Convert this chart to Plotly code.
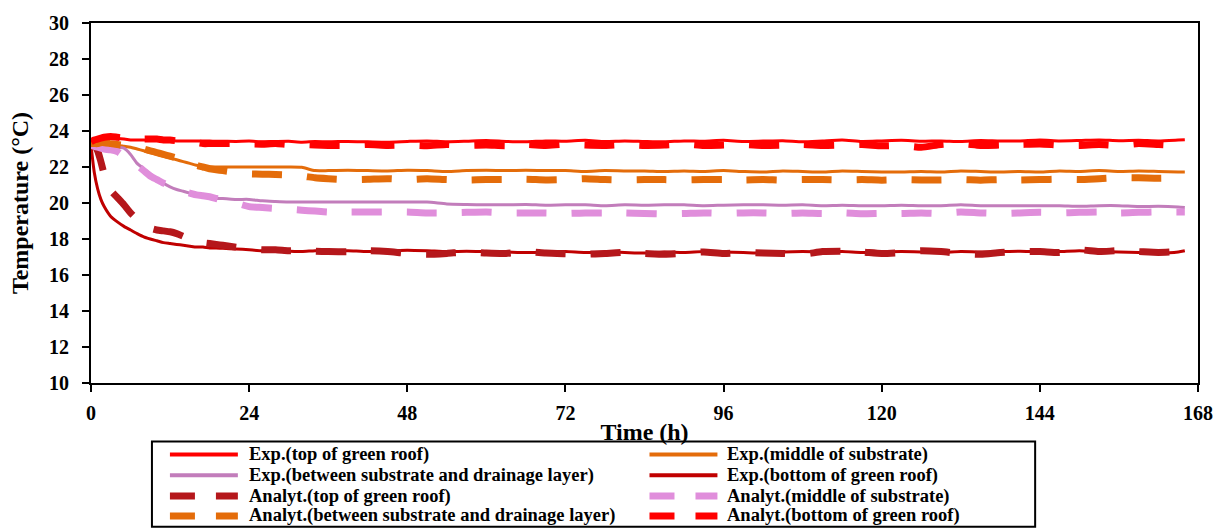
import plotly.graph_objects as go

# Time axis (h)
TIME_H = [0, 0.5, 1, 1.5, 2,
          3, 4, 5, 6, 7, 8, 9, 10, 11, 12, 13, 14, 15, 16, 17, 18, 19, 20,
          22, 24, 26, 28, 30, 32, 34, 36,
          39, 42, 45, 48, 51, 54, 57, 60, 63, 66, 69, 72, 75, 78, 81, 84, 87, 90, 93, 96,
          99, 102, 105, 108, 111, 114, 117, 120, 123, 126, 129, 132, 135, 138, 141, 144,
          147, 150, 153, 156, 159, 162, 165,
          166]

EXP_TOP = [23.35, 23.45, 23.5, 23.55, 23.6,
           23.65, 23.6, 23.55, 23.5, 23.5, 23.5, 23.48, 23.47, 23.47, 23.46, 23.45, 23.45, 23.44, 23.44, 23.45, 23.44, 23.43, 23.43,
           23.42, 23.44, 23.4, 23.42, 23.43, 23.38, 23.42, 23.4,
           23.42, 23.4, 23.38, 23.42, 23.45, 23.4, 23.43, 23.47, 23.42, 23.4, 23.45, 23.43, 23.48, 23.42, 23.45, 23.42, 23.4, 23.45, 23.43, 23.48,
           23.42, 23.44, 23.46, 23.4, 23.45, 23.5, 23.42, 23.45, 23.48, 23.43, 23.45, 23.42, 23.47, 23.44, 23.45, 23.5,
           23.45, 23.47, 23.5, 23.46, 23.48, 23.45, 23.5,
           23.52]

EXP_MIDDLE = [23.2, 23.2, 23.2, 23.2, 23.2,
              23.2, 23.2, 23.15, 23.1, 23.0, 22.9, 22.8, 22.7, 22.6, 22.5, 22.4, 22.3, 22.2, 22.1, 22.05, 22.0, 22.0, 22.0,
              22.0, 22.0, 22.0, 22.0, 22.0, 21.98, 21.8, 21.8,
              21.82, 21.8, 21.78, 21.82, 21.8, 21.75, 21.8, 21.82, 21.8, 21.82, 21.8, 21.8, 21.75, 21.8, 21.78, 21.78, 21.75, 21.78, 21.75, 21.8,
              21.75, 21.72, 21.78, 21.75, 21.72, 21.78, 21.75, 21.72, 21.72, 21.75, 21.72, 21.78, 21.75, 21.72, 21.75, 21.72,
              21.78, 21.75, 21.8, 21.75, 21.78, 21.75, 21.72,
              21.72]

EXP_BETWEEN = [23.1, 23.1, 23.1, 23.1, 23.1,
               23.1, 23.1, 23.05, 22.7, 22.2, 21.9, 21.6, 21.35, 21.1, 20.9, 20.75, 20.65, 20.55, 20.45, 20.35, 20.3, 20.25, 20.25,
               20.2, 20.2, 20.12, 20.08, 20.05, 20.05, 20.05, 20.05,
               20.05, 20.05, 20.05, 20.05, 20.05, 19.95, 19.92, 19.9, 19.9, 19.92, 19.88, 19.9, 19.9, 19.85, 19.9, 19.88, 19.9, 19.9, 19.85, 19.88,
               19.9, 19.9, 19.88, 19.9, 19.85, 19.88, 19.85, 19.85, 19.88, 19.85, 19.85, 19.9, 19.85, 19.85, 19.85, 19.85,
               19.85, 19.82, 19.85, 19.85, 19.8, 19.82, 19.78,
               19.75]

EXP_BOTTOM = [23.2, 21.7, 20.8, 20.2, 19.8,
              19.25, 18.95, 18.7, 18.5, 18.3, 18.12, 18.0, 17.9, 17.8, 17.75, 17.7, 17.65, 17.6, 17.55, 17.55, 17.5, 17.5, 17.48,
              17.45, 17.4, 17.35, 17.35, 17.32, 17.3, 17.35, 17.35,
              17.35, 17.3, 17.35, 17.38, 17.35, 17.3, 17.32, 17.3, 17.28, 17.25, 17.28, 17.3, 17.25, 17.28, 17.25, 17.22, 17.28, 17.25, 17.3, 17.28,
              17.25, 17.22, 17.28, 17.3, 17.28, 17.3, 17.25, 17.28, 17.3, 17.28, 17.25, 17.3, 17.28, 17.3, 17.32, 17.28,
              17.3, 17.35, 17.3, 17.28, 17.25, 17.22, 17.28,
              17.35]

ANALYT_TOP = [23.2, 23.2, 22.9, 22.3, 21.6,
              20.7, 20.3, 19.9, 19.45, 19.1, 18.8, 18.6, 18.5, 18.45, 18.4, 18.3, 18.15, 18.0, 17.9, 17.8, 17.75, 17.7, 17.65,
              17.55, 17.45, 17.4, 17.4, 17.35, 17.35, 17.32, 17.3,
              17.3, 17.35, 17.3, 17.2, 17.15, 17.2, 17.28, 17.22, 17.2, 17.3, 17.22, 17.18, 17.15, 17.2, 17.25, 17.2, 17.15, 17.2, 17.28, 17.2,
              17.25, 17.22, 17.2, 17.15, 17.3, 17.32, 17.28, 17.2, 17.25, 17.35, 17.3, 17.2, 17.15, 17.25, 17.3, 17.3,
              17.25, 17.4, 17.3, 17.35, 17.3, 17.25, 17.3,
              17.35]

ANALYT_MIDDLE = [23.2, 23.15, 23.1, 23.05, 23.0,
                 22.95, 22.85, 22.6, 22.35, 22.1, 21.8, 21.5, 21.3, 21.1, 20.95, 20.8, 20.65, 20.55, 20.45, 20.4, 20.35, 20.25, 20.15,
                 20.0, 19.8, 19.75, 19.7, 19.65, 19.6, 19.55, 19.5,
                 19.5, 19.5, 19.5, 19.5, 19.45, 19.45, 19.48, 19.5, 19.45, 19.45, 19.45, 19.42, 19.45, 19.45, 19.45, 19.42, 19.4, 19.42, 19.45, 19.42,
                 19.45, 19.45, 19.42, 19.45, 19.42, 19.45, 19.4, 19.42, 19.42, 19.45, 19.42, 19.5, 19.45, 19.42, 19.45, 19.48,
                 19.45, 19.48, 19.5, 19.45, 19.48, 19.5, 19.5,
                 19.5]

ANALYT_BETWEEN = [23.3, 23.3, 23.3, 23.35, 23.35,
                  23.3, 23.25, 23.2, 23.15, 23.1, 23.0, 22.9, 22.8, 22.7, 22.6, 22.5, 22.4, 22.25, 22.1, 22.0, 21.9, 21.85, 21.8,
                  21.7, 21.62, 21.6, 21.58, 21.55, 21.5, 21.4, 21.35,
                  21.3, 21.32, 21.35, 21.3, 21.35, 21.3, 21.28, 21.3, 21.3, 21.32, 21.28, 21.3, 21.35, 21.3, 21.28, 21.3, 21.3, 21.28, 21.3, 21.3,
                  21.28, 21.3, 21.27, 21.3, 21.3, 21.28, 21.3, 21.27, 21.3, 21.28, 21.28, 21.3, 21.27, 21.3, 21.28, 21.3,
                  21.32, 21.3, 21.35, 21.4, 21.4, 21.38, 21.4,
                  21.4]

ANALYT_BOTTOM = [23.4, 23.5, 23.55, 23.6, 23.65,
                 23.7, 23.65, 23.6, 23.55, 23.55, 23.55, 23.55, 23.55, 23.5, 23.5, 23.45, 23.4, 23.35, 23.35, 23.3, 23.3, 23.3, 23.3,
                 23.3, 23.28, 23.27, 23.3, 23.25, 23.25, 23.22, 23.2,
                 23.2, 23.25, 23.2, 23.22, 23.18, 23.25, 23.2, 23.22, 23.18, 23.25, 23.2, 23.27, 23.22, 23.2, 23.25, 23.2, 23.22, 23.28, 23.2, 23.22,
                 23.25, 23.2, 23.22, 23.25, 23.2, 23.22, 23.25, 23.18, 23.2, 23.1, 23.25, 23.3, 23.2, 23.22, 23.25, 23.28,
                 23.22, 23.2, 23.25, 23.2, 23.3, 23.25, 23.2,
                 23.25]

SERIES_NAMES = [
    "Exp.(top of green roof)",
    "Exp.(middle of substrate)",
    "Exp.(between substrate and drainage layer)",
    "Exp.(bottom of green roof)",
    "Analyt.(top of green roof)",
    "Analyt.(middle of substrate)",
    "Analyt.(between substrate and drainage layer)",
    "Analyt.(bottom of green roof)",
]
SERIES_VALUES = [EXP_TOP, EXP_MIDDLE, EXP_BETWEEN, EXP_BOTTOM,
                 ANALYT_TOP, ANALYT_MIDDLE, ANALYT_BETWEEN, ANALYT_BOTTOM]
SERIES_COLORS = ["#FF0000", "#E46C0A", "#C27DBB", "#C00000",
                 "#B5171B", "#E08EDB", "#E46C0A", "#FF0000"]

X_TICKS = [0, 24, 48, 72, 96, 120, 144, 168]
Y_TICKS = [10, 12, 14, 16, 18, 20, 22, 24, 26, 28, 30]

for v in SERIES_VALUES:
    assert len(v) == len(TIME_H), len(v)

FONT = "Liberation Serif"
W, H = 1225, 529
ML, MR, MT, MB = 91, 26, 20, 146
PW, PH = W - ML - MR, H - MT - MB


def px_x(px):
    return (px - ML) / PW


def px_y(py):
    return (H - MB - py) / PH


fig = go.Figure()
for i in range(8):
    dashed = i >= 4
    fig.add_trace(go.Scatter(
        x=TIME_H, y=SERIES_VALUES[i], mode="lines", name=SERIES_NAMES[i],
        line=dict(color=SERIES_COLORS[i], width=7 if dashed else 3,
                  dash="30px,25px" if dashed else "solid", shape="spline", smoothing=0.6),
        showlegend=False,
    ))

axis_common = dict(showline=True, linewidth=2, linecolor="black", mirror=True,
                   ticks="outside", ticklen=7, tickwidth=2, tickcolor="black",
                   showgrid=False, zeroline=False,
                   tickfont=dict(family=FONT, size=20, color="black", weight="bold"))

fig.update_xaxes(range=[0, 168], tickvals=X_TICKS, **axis_common, ticklabelstandoff=4,
                 title=dict(text="Time (h)", standoff=0,
                            font=dict(family=FONT, size=24, color="black", weight="bold")))
fig.update_yaxes(range=[10, 30], tickvals=Y_TICKS, **axis_common, ticklabelstandoff=9,
                 title=dict(text="Temperature (°C)", standoff=14,
                            font=dict(family=FONT, size=24, color="black", weight="bold")))

# ---- Legend box (drawn manually to match the reference layout) ----
LEG_LEFT, LEG_RIGHT, LEG_TOP, LEG_BOTTOM = 152, 1036, 442, 528
COL_SAMPLE_X = [(170, 238), (650, 718)]
COL_TEXT_X = [247, 726]
ROW_Y = [455, 476, 497, 517]

shapes = [dict(type="rect", xref="paper", yref="paper",
               x0=px_x(LEG_LEFT), x1=px_x(LEG_RIGHT), y0=px_y(LEG_BOTTOM), y1=px_y(LEG_TOP),
               line=dict(color="black", width=2), fillcolor="rgba(0,0,0,0)", layer="above")]
annotations = []
for i, name in enumerate(SERIES_NAMES):
    col, row = i % 2, i // 2
    dashed = i >= 4
    sx0, sx1 = COL_SAMPLE_X[col]
    yy = px_y(ROW_Y[row])
    shapes.append(dict(type="line", xref="paper", yref="paper",
                       x0=px_x(sx0), x1=px_x(sx1), y0=yy, y1=yy, layer="above",
                       line=dict(color=SERIES_COLORS[i], width=7 if dashed else 4,
                                 dash="25px,21px" if dashed else "solid")))
    annotations.append(dict(text=name, xref="paper", yref="paper",
                            x=px_x(COL_TEXT_X[col]), y=yy, xanchor="left", yanchor="middle",
                            showarrow=False,
                            font=dict(family=FONT, size=18.5, color="black", weight="bold")))

fig.update_layout(
    width=W, height=H,
    margin=dict(l=ML, r=MR, t=MT, b=MB),
    paper_bgcolor="white", plot_bgcolor="white",
    showlegend=False,
    shapes=shapes, annotations=annotations,
)

fig.write_html("out.html")
